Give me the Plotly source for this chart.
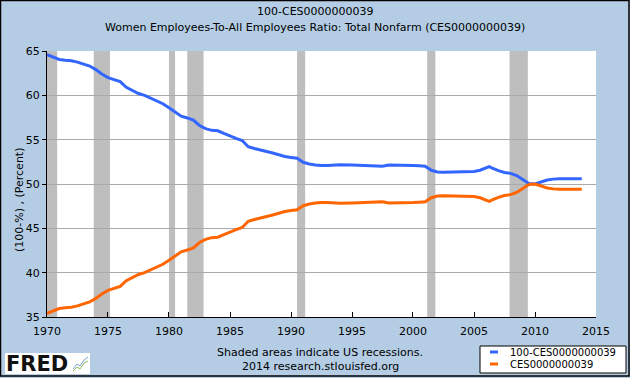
import plotly.graph_objects as go

# ---- data ----
dates = ["1970-01-01","1970-07-01","1971-01-01","1971-07-01","1972-01-01","1972-07-01",
         "1973-01-01","1973-07-01","1974-01-01","1974-07-01","1975-01-01","1975-07-01",
         "1976-01-01","1976-07-01","1977-01-01","1977-07-01","1978-01-01","1978-07-01",
         "1979-01-01","1979-07-01","1980-01-01","1980-07-01","1981-01-01","1981-07-01",
         "1982-01-01","1982-07-01","1983-01-01","1983-07-01","1984-01-01","1984-07-01",
         "1985-01-01","1985-07-01","1986-01-01","1986-07-01","1987-01-01","1987-07-01",
         "1988-01-01","1988-07-01","1989-01-01","1989-07-01","1990-01-01","1990-07-01",
         "1991-01-01","1991-07-01","1992-01-01","1992-07-01","1993-01-01","1993-07-01",
         "1994-01-01","1995-01-01","1996-01-01","1997-01-01","1997-07-01","1998-01-01",
         "1999-01-01","2000-01-01","2000-07-01","2001-01-01","2001-07-01","2002-01-01",
         "2002-07-01","2003-01-01","2004-01-01","2005-01-01","2005-07-01","2006-01-01",
         "2006-04-01","2006-07-01","2007-01-01","2007-07-01","2008-01-01","2008-07-01",
         "2009-01-01","2009-07-01","2010-01-01","2010-07-01","2011-01-01","2011-07-01",
         "2012-01-01","2013-01-01","2013-11-01"]

women_share = [35.4, 35.7, 35.95, 36.05, 36.1, 36.25,
               36.45, 36.7, 37.1, 37.6, 38.0, 38.2,
               38.45, 39.1, 39.45, 39.8, 40.0, 40.3,
               40.6, 40.95, 41.4, 41.9, 42.35, 42.55,
               42.8, 43.4, 43.75, 43.95, 44.0, 44.3,
               44.6, 44.85, 45.1, 45.8, 46.0, 46.15,
               46.35, 46.5, 46.7, 46.9, 47.0, 47.1,
               47.55, 47.75, 47.85, 47.92, 47.9, 47.85,
               47.82, 47.85, 47.9, 47.95, 48.0, 47.85,
               47.85, 47.9, 47.95, 48.0, 48.45, 48.65,
               48.68, 48.65, 48.62, 48.6, 48.45, 48.15,
               48.05, 48.2, 48.5, 48.7, 48.8, 49.05,
               49.5, 49.95, 50.0, 49.75, 49.55, 49.45,
               49.4, 49.4, 49.4]

# 100 - CES0000000039 (by definition of the series)
men_share = [round(100 - v, 2) for v in women_share]

recession_start = ["1969-12-01","1973-11-01","1980-01-01","1981-07-01","1990-07-01","2001-03-01","2007-12-01"]
recession_end   = ["1970-11-01","1975-03-01","1980-07-01","1982-11-01","1991-03-01","2001-11-01","2009-06-01"]

series_names = ["100-CES0000000039", "CES0000000039"]
series_colors = ["#3366FF", "#FF6600"]
y_ticks = [35, 40, 45, 50, 55, 60, 65]
x_ticks = ["1970","1975","1980","1985","1990","1995","2000","2005","2010","2015"]

# ---- figure ----
BG = "#B4CDE5"
FONT = "DejaVu Sans"
W, H = 630, 378
L, R, T, B = 47, 34, 51, 61
pw, ph = W - L - R, H - T - B

def px_x(x):
    return (x - L) / pw

def px_y(y):
    return (H - B - y) / ph

fig = go.Figure()
for name, col, vals in zip(series_names, series_colors, [men_share, women_share]):
    fig.add_trace(go.Scatter(x=dates, y=vals, mode="lines", name=name,
                             line=dict(color=col, width=3), showlegend=False))

shapes = []
for s, e in zip(recession_start, recession_end):
    shapes.append(dict(type="rect", xref="x", yref="paper", x0=s, x1=e, y0=0, y1=1,
                       fillcolor="#BEBEBE", line=dict(width=0), layer="between"))
# outer black frame
shapes.append(dict(type="rect", xref="paper", yref="paper",
                   x0=px_x(0.5), x1=px_x(W - 1), y0=px_y(H - 2), y1=px_y(0.5),
                   line=dict(color="black", width=1.5), fillcolor="rgba(0,0,0,0)", layer="above"))
# legend box
shapes.append(dict(type="rect", xref="paper", yref="paper",
                   x0=px_x(480), x1=px_x(626), y0=px_y(373), y1=px_y(346),
                   line=dict(color="black", width=1), fillcolor="white", layer="above"))
for i, col in enumerate(series_colors):
    yy = 352 + 12 * i
    shapes.append(dict(type="line", xref="paper", yref="paper",
                       x0=px_x(490), x1=px_x(498), y0=px_y(yy), y1=px_y(yy),
                       line=dict(color=col, width=3), layer="above"))
# FRED logo box
shapes.append(dict(type="rect", xref="paper", yref="paper",
                   x0=px_x(5), x1=px_x(90), y0=px_y(374), y1=px_y(353),
                   line=dict(width=0), fillcolor="white", layer="above"))
# small logo icon
shapes.append(dict(type="path", xref="paper", yref="paper",
                   path="M {} {} L {} {} L {} {} L {} {} L {} {}".format(
                       px_x(73), px_y(369), px_x(77), px_y(364), px_x(80), px_y(366),
                       px_x(84), px_y(360), px_x(88), px_y(357)),
                   line=dict(color="#7DA0C8", width=1), layer="above"))
shapes.append(dict(type="path", xref="paper", yref="paper",
                   path="M {} {} L {} {} L {} {} L {} {} L {} {}".format(
                       px_x(73), px_y(371), px_x(77), px_y(367), px_x(80), px_y(369),
                       px_x(84), px_y(363), px_x(88), px_y(361)),
                   line=dict(color="#8DBF5A", width=1), layer="above"))

annotations = [
    dict(text="100-CES0000000039", x=px_x(315), xref="paper", y=px_y(11), yref="paper",
         showarrow=False, font=dict(family=FONT, size=11, color="black"), xanchor="center", yanchor="middle"),
    dict(text="Women Employees-To-All Employees Ratio: Total Nonfarm (CES0000000039)",
         x=px_x(315), xref="paper", y=px_y(28), yref="paper",
         showarrow=False, font=dict(family=FONT, size=11, color="black"), xanchor="center", yanchor="middle"),
    dict(text="(100-%) , (Percent)", x=px_x(19), xref="paper", y=px_y(200), yref="paper",
         textangle=-90, showarrow=False, font=dict(family=FONT, size=11, color="black"),
         xanchor="center", yanchor="middle"),
    dict(text="Shaded areas indicate US recessions.", x=px_x(320), xref="paper", y=px_y(352), yref="paper",
         showarrow=False, font=dict(family=FONT, size=11, color="black"), xanchor="center", yanchor="middle"),
    dict(text="2014 research.stlouisfed.org", x=px_x(320), xref="paper", y=px_y(366), yref="paper",
         showarrow=False, font=dict(family=FONT, size=11, color="black"), xanchor="center", yanchor="middle"),
    dict(text="<b>FRED</b>", x=px_x(4), xref="paper", y=px_y(364), yref="paper",
         showarrow=False, font=dict(family="DejaVu Sans", size=21, color="#111111"),
         xanchor="left", yanchor="middle"),
]
for i, name in enumerate(series_names):
    annotations.append(dict(text=name, x=px_x(508), xref="paper", y=px_y(352 + 12 * i), yref="paper",
                            showarrow=False, font=dict(family=FONT, size=10, color="black"),
                            xanchor="left", yanchor="middle"))

fig.update_layout(
    width=W, height=H,
    margin=dict(l=L, r=R, t=T, b=B, pad=0),
    paper_bgcolor=BG, plot_bgcolor="white",
    font=dict(family=FONT, size=11, color="black"),
    showlegend=False,
    shapes=shapes,
    annotations=annotations,
)
fig.update_xaxes(type="date", range=["1970-01-01", "2015-01-01"],
                 tickvals=[t + "-01-01" for t in x_ticks], ticktext=x_ticks,
                 showgrid=False, zeroline=False, showline=True, linecolor="black", linewidth=1,
                 ticks="inside", ticklen=5, tickcolor="black", ticklabelstandoff=4,
                 tickfont=dict(family=FONT, size=11, color="black"))
fig.update_yaxes(range=[35, 65], tickvals=y_ticks,
                 showgrid=True, gridcolor="#AAAAAA", gridwidth=1, zeroline=False,
                 showline=True, linecolor="black", linewidth=1,
                 ticks="outside", ticklen=4, tickcolor="black",
                 tickfont=dict(family=FONT, size=11, color="black"))

fig.write_html("out.html", config={"displayModeBar": False},
               post_script="document.body.style.margin='0';")
